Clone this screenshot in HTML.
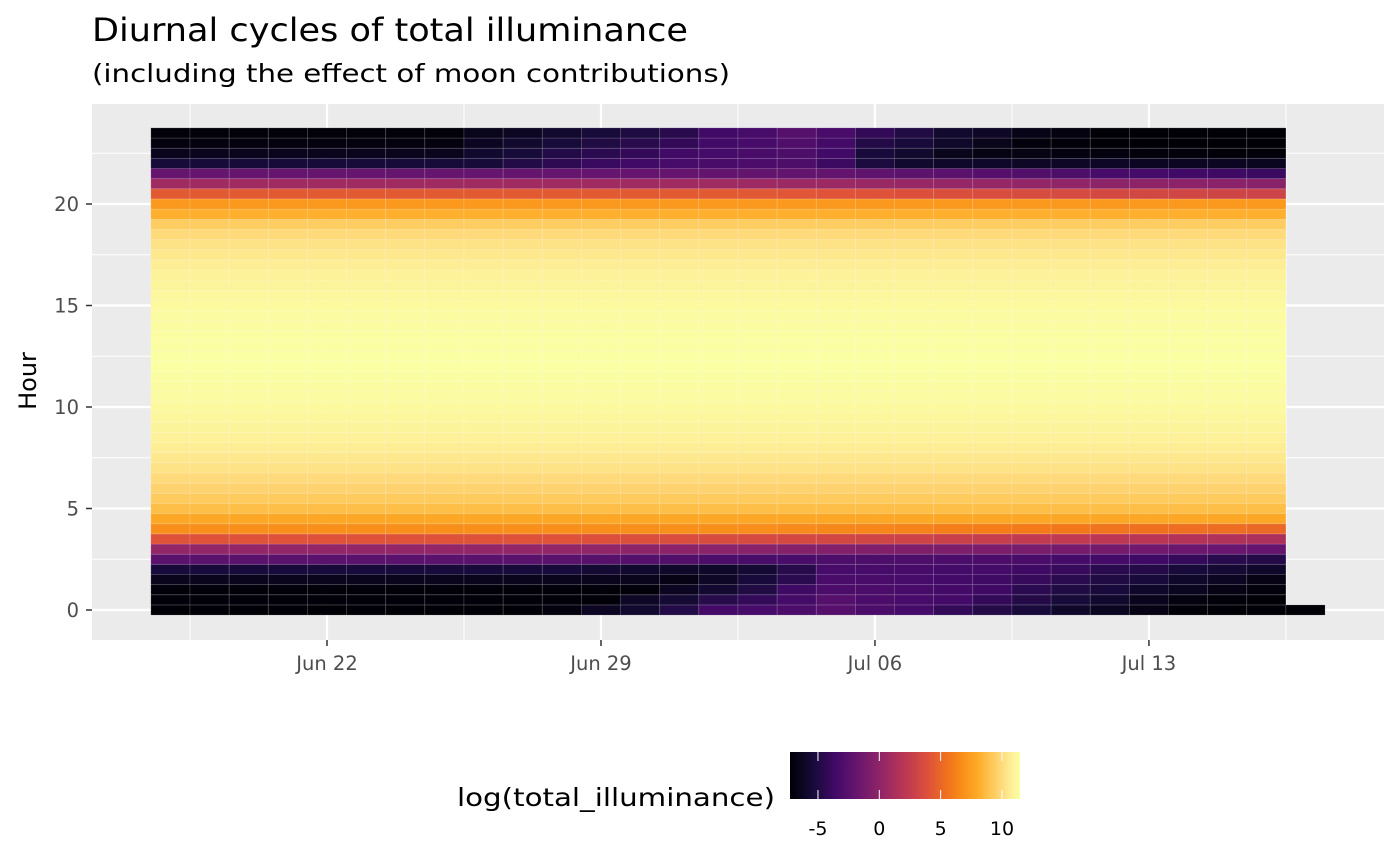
<!DOCTYPE html>
<html><head><meta charset="utf-8"><style>
body{margin:0;background:#fff;}
svg{display:block;font-family:"DejaVu Sans","Liberation Sans",sans-serif;}
</style></head><body>
<svg id="chart" width="1400" height="865" viewBox="0 0 1400 865">
<defs><linearGradient id="infgrad" x1="0" x2="1" y1="0" y2="0"></linearGradient></defs>
<text x="92" y="41" font-size="32" fill="#000" textLength="596" lengthAdjust="spacingAndGlyphs">Diurnal cycles of total illuminance</text>
<text x="92" y="82" font-size="25" fill="#000" textLength="638" lengthAdjust="spacingAndGlyphs">(including the effect of moon contributions)</text>
<rect x="92" y="104" width="1292" height="536" fill="#ebebeb"/>
<g id="grid"></g>
<g id="tiles"></g>
<g id="axes"></g>
<text transform="translate(36,381) rotate(-90)" text-anchor="middle" font-size="24" fill="#000">Hour</text>
<g id="legend"></g>
</svg>
<script>
const NS='http://www.w3.org/2000/svg';
const dates=['2024-06-18','2024-06-19','2024-06-20','2024-06-21','2024-06-22','2024-06-23','2024-06-24','2024-06-25','2024-06-26','2024-06-27','2024-06-28','2024-06-29','2024-06-30','2024-07-01','2024-07-02','2024-07-03','2024-07-04','2024-07-05','2024-07-06','2024-07-07','2024-07-08','2024-07-09','2024-07-10','2024-07-11','2024-07-12','2024-07-13','2024-07-14','2024-07-15','2024-07-16'];
const hours=[0,0.5,1,1.5,2,2.5,3,3.5,4,4.5,5,5.5,6,6.5,7,7.5,8,8.5,9,9.5,10,10.5,11,11.5,12,12.5,13,13.5,14,14.5,15,15.5,16,16.5,17,17.5,18,18.5,19,19.5,20,20.5,21,21.5,22,22.5,23,23.5];
const sunProfile=[-7.2,-7.1,-7.1,-6.4,-5.3,-2.4,0.2,4.0,6.8,7.9,8.8,9.3,9.7,10.0,10.3,10.5,10.7,10.9,11.0,11.1,11.2,11.3,11.35,11.4,11.45,11.45,11.4,11.4,11.35,11.3,11.2,11.1,11.0,10.9,10.7,10.5,10.3,10.0,9.4,8.2,7.2,4.4,0.8,-1.9,-5.4,-6.4,-6.9,-7.1];
const r0=[-7.2,-7.2,-7.2,-7.2,-7.2,-7.2,-7.2,-7.2,-7.2,-7.2,-6.9,-6.2,-5.8,-4.9,-3.5,-3.3,-3.1,-2.6,-3.1,-3.4,-4.2,-4.8,-5.3,-5.9,-6.3,-6.7,-7.2,-7.2,-7.2];
const r05=[-7.1,-7.1,-7.1,-7.1,-7.1,-7.1,-7.1,-7.1,-7.1,-7.1,-7.1,-7.1,-6.1,-5.6,-4.7,-4.2,-3.4,-2.7,-3.1,-3.3,-3.5,-4.2,-4.8,-5.4,-5.8,-6.4,-6.9,-7.1,-7.2];
const r1=[-7.1,-7.1,-7.1,-7.1,-7.1,-7.1,-7.1,-7.1,-7.1,-7.1,-7.1,-7.1,-7.1,-6.2,-5.7,-5.0,-3.7,-3.1,-3.1,-3.3,-3.5,-3.7,-4.5,-5.0,-5.3,-5.9,-6.3,-6.7,-7.0];
const r15=[-6.4,-6.4,-6.4,-6.4,-6.4,-6.4,-6.4,-6.4,-6.4,-6.4,-6.4,-6.4,-6.4,-6.7,-6.1,-5.3,-4.5,-3.2,-3.2,-3.3,-3.5,-3.7,-4.0,-4.5,-5.0,-5.3,-5.9,-6.2,-6.7];
const r2=[-5.3,-5.3,-5.3,-5.3,-5.3,-5.3,-5.3,-5.3,-5.3,-5.3,-5.3,-5.6,-5.8,-5.9,-5.9,-5.6,-4.7,-3.3,-3.3,-3.3,-3.4,-3.4,-3.7,-4.0,-4.5,-4.8,-5.3,-5.6,-5.9];
const r25=[-2.4,-2.4,-2.4,-2.4,-2.4,-2.4,-2.4,-2.4,-2.4,-2.4,-2.4,-2.5,-2.7,-2.8,-3.1,-3.2,-3.2,-3.0,-3.0,-3.0,-3.1,-3.1,-3.2,-3.4,-3.5,-3.7,-4.1,-4.6,-4.8];
const r3=[0.2,0.2,0.2,0.2,0.2,0.2,0.2,0.2,0.2,0.2,0.2,0.1,0.0,-0.1,-0.2,-0.3,-0.4,-0.5,-0.6,-0.7,-0.8,-0.9,-1.0,-1.1,-1.2,-1.4,-1.6,-1.7,-1.9];
const r35=[4.0,4.0,4.0,4.0,4.0,4.0,4.0,4.0,4.0,4.0,4.0,3.9,3.8,3.7,3.6,3.5,3.4,3.3,3.1,3.0,2.8,2.6,2.4,2.3,2.1,1.9,1.7,1.5,1.3];
const r4=[6.8,6.8,6.8,6.8,6.8,6.8,6.8,6.8,6.8,6.8,6.8,6.8,6.8,6.8,6.8,6.7,6.6,6.5,6.4,6.3,6.1,6.0,5.9,5.8,5.6,5.5,5.4,5.3,5.1];
const r205=[4.4,4.4,4.4,4.4,4.4,4.4,4.4,4.4,4.4,4.4,4.4,4.4,4.4,4.4,4.4,4.3,4.2,4.1,4.0,3.9,3.8,3.7,3.6,3.5,3.4,3.3,3.2,3.1,3.0];
const r21=[0.8,0.8,0.8,0.8,0.8,0.8,0.8,0.8,0.8,0.8,0.8,0.8,0.8,0.8,0.8,0.7,0.6,0.6,0.5,0.4,0.3,0.3,0.2,0.1,0.0,0.0,-0.1,-0.2,-0.3];
const r215=[-1.9,-1.9,-1.9,-1.9,-1.9,-1.9,-1.9,-1.9,-1.9,-1.9,-1.9,-1.9,-1.9,-1.9,-2.0,-2.0,-2.0,-2.0,-2.2,-2.3,-2.4,-2.6,-2.8,-3.0,-3.3,-3.4,-3.6,-3.7,-3.9];
const r22=[-5.4,-5.4,-5.4,-5.4,-5.4,-5.4,-5.4,-5.4,-5.4,-4.9,-4.4,-3.9,-3.6,-3.3,-3.2,-3.1,-3.0,-3.8,-5.2,-5.8,-5.9,-5.9,-6.1,-6.1,-6.1,-6.2,-6.2,-6.2,-6.3];
const r225=[-6.4,-6.4,-6.4,-6.4,-6.4,-6.4,-6.4,-6.4,-5.8,-5.4,-4.9,-4.5,-4.2,-3.6,-3.4,-3.2,-3.0,-3.6,-5.3,-5.8,-6.5,-6.8,-6.8,-6.9,-6.9,-7.0,-7.0,-7.1,-7.1];
const r23=[-6.9,-6.9,-6.9,-6.9,-6.9,-6.9,-6.9,-6.9,-6.2,-5.8,-5.4,-5.0,-4.6,-4.2,-3.6,-3.3,-2.9,-3.5,-4.8,-5.3,-6.0,-6.5,-7.0,-7.1,-7.2,-7.2,-7.2,-7.2,-7.2];
const r235=[-7.1,-7.1,-7.1,-7.1,-7.1,-7.1,-7.1,-7.1,-6.5,-6.2,-5.8,-5.4,-5.1,-4.6,-3.6,-3.3,-2.7,-3.2,-4.2,-5.0,-5.8,-6.1,-6.6,-6.9,-7.2,-7.2,-7.2,-7.2,-7.2];
const rowHours=[0,0.5,1,1.5,2,2.5,3,3.5,4,20.5,21,21.5,22,22.5,23,23.5];
const rowValues=[r0,r05,r1,r15,r2,r25,r3,r35,r4,r205,r21,r215,r22,r225,r23,r235];
const extraDates=['2024-07-17'];
const extraHours=[0];
const extraValues=[-7.2];
const yTicks=[0,5,10,15,20];
const xTickDates=['2024-06-22','2024-06-29','2024-07-06','2024-07-13'];
const xTickLabels=['Jun 22','Jun 29','Jul 06','Jul 13'];
const legendTicks=[-5,0,5,10];
const vmin=-7.28, vmax=11.47;

const DAY=86400000;
const t0=Date.parse('2024-06-22');
const xs=d=>327+(Date.parse(d)-t0)/DAY*39.14;
const ys=h=>610-h*20.3;
const dayW=39.14, hourH=20.3*0.5;
const pal=[[0,0,0,4],[0.1,22,11,57],[0.2,66,10,104],[0.3,106,23,110],[0.4,147,38,103],[0.5,188,55,84],[0.6,221,81,58],[0.7,243,120,25],[0.77,250,152,28],[0.82,253,172,40],[0.87,254,197,83],[0.92,254,217,122],[0.96,253,238,150],[1,251,255,164]];
function col(v){let t=(v-vmin)/(vmax-vmin);t=Math.max(0,Math.min(1,t));let i=0;while(i<pal.length-2&&t>pal[i+1][0])i++;const a=pal[i],b=pal[i+1];const f=(t-a[0])/(b[0]-a[0]);return 'rgb('+[1,2,3].map(k=>Math.round(a[k]+(b[k]-a[k])*f)).join(',')+')';}
function mk(tag,attrs,parent){const e=document.createElementNS(NS,tag);for(const k in attrs)e.setAttribute(k,attrs[k]);parent.appendChild(e);return e;}

const grid=document.getElementById('grid');
[2.5,7.5,12.5,17.5,22.5].forEach(h=>{const l=mk('line',{x1:92,x2:1384,y1:ys(h),y2:ys(h),stroke:'#fff','stroke-width':1},grid);

});
yTicks.forEach(h=>{const l=mk('line',{x1:92,x2:1384,y1:ys(h),y2:ys(h),stroke:'#fff','stroke-width':2.2},grid);

});
['2024-06-18T12:00:00Z','2024-06-25T12:00:00Z','2024-07-02T12:00:00Z','2024-07-09T12:00:00Z','2024-07-16T12:00:00Z'].forEach(d=>{const x=327+(Date.parse(d)-t0)/DAY*39.14;const l=mk('line',{x1:x,x2:x,y1:104,y2:640,stroke:'#fff','stroke-width':1},grid);

});
xTickDates.forEach(d=>{const l=mk('line',{x1:xs(d),x2:xs(d),y1:104,y2:640,stroke:'#fff','stroke-width':2.2},grid);

});

const tiles=document.getElementById('tiles');
function tile(d,h,v){const r=mk('rect',{x:xs(d)-dayW/2,y:ys(h)-hourH/2,width:dayW,height:hourH,fill:col(v),stroke:'rgba(255,255,255,0.16)','stroke-width':0.8},tiles);

}
hours.forEach((h,hi)=>{const ri=rowHours.indexOf(h);dates.forEach((d,di)=>{const v=ri>=0?rowValues[ri][di]:sunProfile[hi];tile(d,h,v);});});
extraDates.forEach((d,i)=>tile(d,extraHours[i],extraValues[i]));

const axes=document.getElementById('axes');
yTicks.forEach(h=>{const l=mk('line',{x1:86,x2:92,y1:ys(h),y2:ys(h),stroke:'#333','stroke-width':1.5},axes);


const t=mk('text',{x:79,y:ys(h)+7,'text-anchor':'end','font-size':19.5,fill:'#4d4d4d'},axes);t.textContent=h;

});
xTickDates.forEach((d,i)=>{const l=mk('line',{x1:xs(d),x2:xs(d),y1:640,y2:646,stroke:'#333','stroke-width':1.5},axes);


const t=mk('text',{x:xs(d),y:670,'text-anchor':'middle','font-size':19.5,fill:'#4d4d4d'},axes);t.textContent=xTickLabels[i];

});

const lg=document.getElementById('legend');
const grad=document.getElementById('infgrad');
pal.forEach(c=>{mk('stop',{offset:(c[0]*100)+'%','stop-color':'rgb('+c.slice(1).join(',')+')'},grad);});
const lx=v=>790+(v-vmin)/(vmax-vmin)*230;
const lt=mk('text',{x:775,y:806,'text-anchor':'end','font-size':25,fill:'#000',textLength:318,lengthAdjust:'spacingAndGlyphs'},lg);lt.textContent='log(total_illuminance)';


const bar=mk('rect',{x:790,y:752,width:230,height:47,fill:'url(#infgrad)'},lg);


legendTicks.forEach(v=>{const x=lx(v);
const a=mk('line',{x1:x,x2:x,y1:752,y2:761,stroke:'#fff','stroke-width':1},lg);


const b=mk('line',{x1:x,x2:x,y1:790,y2:799,stroke:'#fff','stroke-width':1},lg);


const t=mk('text',{x:x,y:835,'text-anchor':'middle','font-size':19,fill:'#000'},lg);t.textContent=v;

});
</script>
</body></html>
